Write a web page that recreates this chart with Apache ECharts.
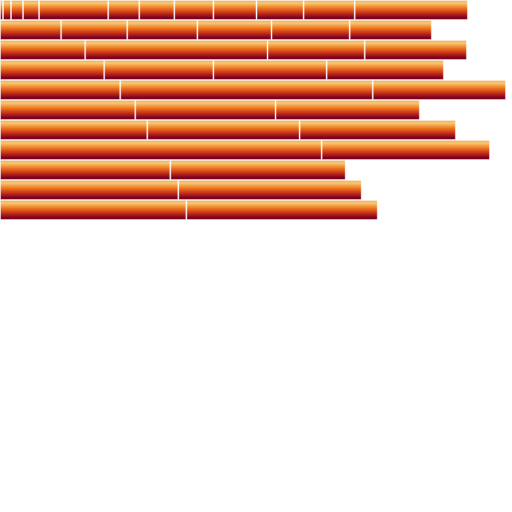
<!DOCTYPE html>
<html>
<head>
<meta charset="utf-8">
<script src="https://cdn.jsdelivr.net/npm/echarts@6/dist/echarts.min.js"></script>
<style>html,body{margin:0;padding:0;background:#fff;}#c{width:512px;height:512px;}</style>
</head>
<body>
<div id="c"></div>
<script>
// Row categories (top to bottom)
const categories = ['R1','R2','R3','R4','R5','R6','R7','R8','R9','R10','R11'];
// Segment values per row (stacked left to right)
const row1 = [3, 8, 12, 16, 69, 31, 35, 39, 43, 47, 51, 113];
const row2 = [61, 66, 70, 74, 78, 82];
const row3 = [85, 182, 97, 102];
const row4 = [104, 109, 113, 117];
const row5 = [120, 252, 133];
const row6 = [135, 140, 144];
const row7 = [147, 152, 156];
const row8 = [321, 168];
const row9 = [170, 175];
const row10 = [178, 183];
const row11 = [186, 191];
const rows = [row1,row2,row3,row4,row5,row6,row7,row8,row9,row10,row11];

const maxSeg = Math.max(...rows.map(r => r.length));
const grad = new echarts.graphic.LinearGradient(0, 0, 0, 1, [
  {offset: 0, color: '#f0a050'},
  {offset: 0.15, color: '#f6ca72'},
  {offset: 0.4, color: '#f07820'},
  {offset: 0.65, color: '#c43018'},
  {offset: 0.88, color: '#800020'},
  {offset: 1, color: '#700020'}
]);
const series = [];
for (let k = 0; k < maxSeg; k++) {
  series.push({
    type: 'bar',
    stack: 'all',
    barWidth: 20,
    data: rows.map(r => (k < r.length ? r[k] : null)),
    itemStyle: {color: grad, borderColor: 'rgba(255,255,255,0.4)', borderWidth: 1},
    emphasis: {disabled: true},
    animation: false
  });
}
const chart = echarts.init(document.getElementById('c'));
chart.setOption({
  animation: false,
  grid: {left: 0, right: 0, top: 0, height: 220, containLabel: false},
  xAxis: {type: 'value', min: 0, max: 511, show: false},
  yAxis: {type: 'category', data: categories, inverse: true, show: false},
  series: series
});
</script>
</body>
</html>
